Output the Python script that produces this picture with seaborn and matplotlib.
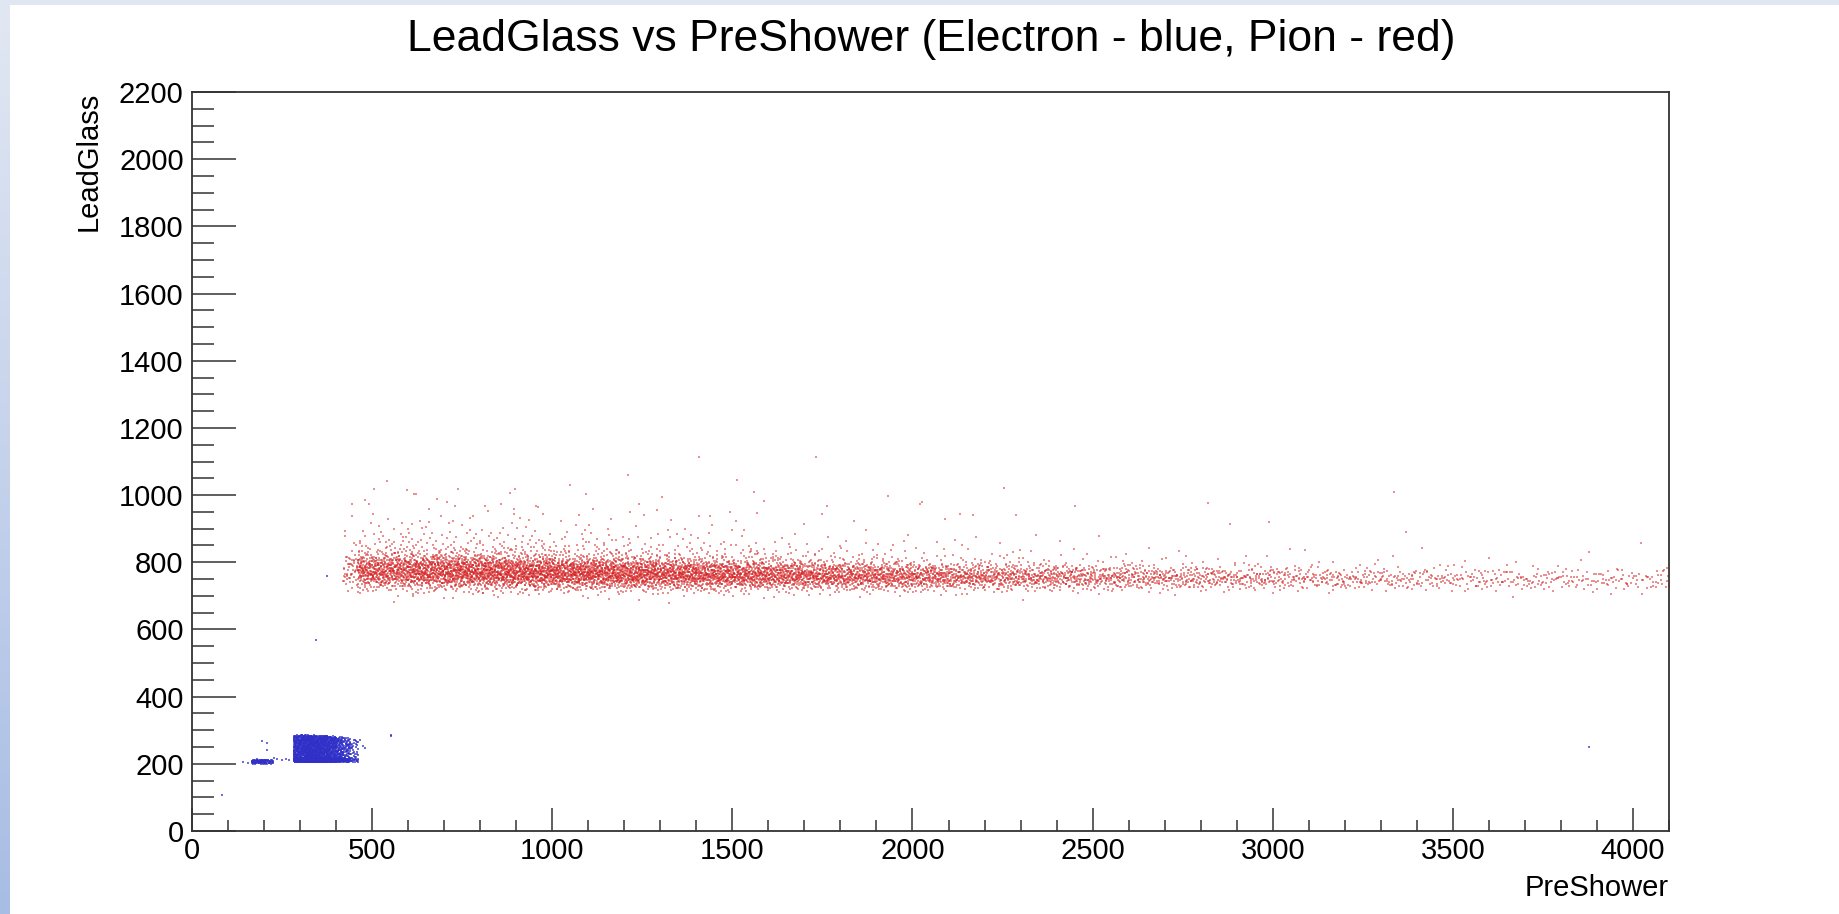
import numpy as np
import pandas as pd
import matplotlib
matplotlib.use("Agg")
import matplotlib.pyplot as plt
import seaborn as sns

# ---------------- data ----------------
# Pion (red) band: PreShower bins, counts, band centre / width (LeadGlass)
pion_bin_edges = [420, 460, 500, 600, 700, 800, 900, 1000, 1100, 1200, 1300, 1400,
                  1500, 1600, 1700, 1800, 1900, 2000, 2100, 2200, 2300, 2400,
                  2500, 2600, 2700, 2800, 2900, 3000, 3100, 3200, 3300, 3400,
                  3500, 3600, 3700, 3800, 3900, 4000, 4100]
pion_bin_counts = [55, 170, 430, 480, 500, 500, 500, 480, 470, 450, 420, 400,
                   370, 340, 310, 290, 270, 240, 210, 190, 170, 150,
                   135, 120, 105, 95, 85, 75, 68, 60, 55, 50,
                   45, 42, 40, 38, 36, 34]
pion_center = [770, 770, 770, 769, 768, 767, 766, 765, 764, 763, 762, 761,
               760, 759, 758, 757, 756, 756, 755, 755, 754, 754,
               753, 753, 752, 752, 751, 751, 750, 750, 749, 749,
               748, 748, 747, 747, 746, 746]
pion_sigma = [25, 25, 25, 25, 24, 24, 24, 23, 23, 23, 22, 22,
              21, 21, 20, 20, 20, 19, 19, 19, 18, 18,
              18, 17, 17, 17, 17, 16, 16, 16, 16, 16,
              16, 16, 16, 16, 16, 16]
pion_tail_frac = [0.18, 0.18, 0.18, 0.17, 0.17, 0.16, 0.16, 0.15, 0.15, 0.14, 0.14, 0.13,
                  0.13, 0.12, 0.12, 0.11, 0.11, 0.10, 0.10, 0.10, 0.09, 0.09,
                  0.09, 0.08, 0.08, 0.08, 0.08, 0.08, 0.08, 0.08, 0.08, 0.08,
                  0.08, 0.08, 0.08, 0.08, 0.08, 0.08]
pion_tail_scale = [45, 45, 45, 45, 42, 42, 40, 40, 38, 38, 36, 36,
                   34, 34, 32, 32, 30, 30, 30, 28, 28, 28,
                   26, 26, 26, 25, 25, 25, 25, 25, 25, 25,
                   25, 25, 25, 25, 25, 25]
pion_outliers_x = [1407, 1210, 1514, 505, 598, 739, 622, 1093, 1561, 1588, 681,
                   444, 444, 812, 858, 956, 1241, 1291, 1407, 1437, 893, 893,
                   1113, 1567, 973, 1731, 2253, 1931, 1762, 2022, 2450, 2819,
                   2089, 2133, 2167, 2287, 3337, 2989]
pion_outliers_y = [1113, 1060, 1046, 1019, 1016, 1019, 1002, 1002, 1009, 983, 988,
                   973, 937, 969, 973, 969, 973, 955, 937, 937, 959, 944,
                   959, 948, 944, 1113, 1022, 998, 969, 973, 969, 977,
                   930, 944, 941, 941, 1009, 920]

# Electron (blue) cluster: PreShower bins of the main block
electron_bin_edges = [282, 300, 320, 340, 360, 380, 400, 420, 440, 462]
electron_bin_counts = [230, 300, 310, 290, 260, 210, 150, 100, 45]
electron_y_low = [205, 205, 205, 205, 205, 205, 205, 205, 205]
electron_y_high = [285, 286, 285, 284, 284, 282, 280, 278, 272]
# small electron clump at low PreShower
electron_clump_edges = [165, 185, 205, 226]
electron_clump_counts = [30, 40, 25]
electron_clump_y_low = [200, 200, 200]
electron_clump_y_high = [213, 213, 212]
electron_outliers_x = [141, 156, 194, 207, 207, 228, 237, 250, 262, 270, 83,
                       476, 481, 467, 552, 552, 375, 344, 3878]
electron_outliers_y = [204, 203, 269, 262, 240, 217, 215, 212, 214, 211, 107,
                       253, 248, 272, 287, 283, 759, 568, 250]


# ---------------- deterministic fill of the read-off bins ----------------
def vdc(n, base):
    out = np.zeros(len(n))
    for i, k in enumerate(n):
        f, r, k = 1.0, 0.0, int(k)
        while k > 0:
            f /= base
            r += f * (k % base)
            k //= base
        out[i] = r
    return out


def fill_band(edges, counts, centers, sigmas, tfrac, tscale, start=1):
    xs, ys = [], []
    idx = start
    for i, n in enumerate(counts):
        k = np.arange(idx, idx + n)
        idx += n
        u1, u2, u3, u4 = vdc(k, 2), vdc(k, 3), vdc(k, 5), vdc(k, 7)
        x = edges[i] + (edges[i + 1] - edges[i]) * u4
        z = np.sqrt(-2 * np.log(u1)) * np.cos(2 * np.pi * u2)
        y = centers[i] + sigmas[i] * z
        tail = u3 < tfrac[i]
        y[tail] = centers[i] + 20 + tscale[i] * (-np.log(1 - u2[tail] * 0.999))
        xs.append(x)
        ys.append(y)
    return np.concatenate(xs), np.concatenate(ys)


def fill_box(edges, counts, ylo, yhi, start=1):
    xs, ys = [], []
    idx = start
    for i, n in enumerate(counts):
        k = np.arange(idx, idx + n)
        idx += n
        u1, u2, u3 = vdc(k, 2), vdc(k, 3), vdc(k, 5)
        x = edges[i] + (edges[i + 1] - edges[i]) * u1
        y = ylo[i] + (yhi[i] - ylo[i]) * u2
        bottom = u3 < 0.25
        y[bottom] = ylo[i] + 12 * u2[bottom]
        xs.append(x)
        ys.append(y)
    return np.concatenate(xs), np.concatenate(ys)


px, py = fill_band(pion_bin_edges, pion_bin_counts, pion_center, pion_sigma,
                   pion_tail_frac, pion_tail_scale)
px = np.concatenate([px, pion_outliers_x])
py = np.concatenate([py, pion_outliers_y])

ex, ey = fill_box(electron_bin_edges, electron_bin_counts,
                  electron_y_low, electron_y_high)
cx, cy = fill_box(electron_clump_edges, electron_clump_counts,
                  electron_clump_y_low, electron_clump_y_high, start=5000)
ex = np.concatenate([ex, cx, electron_outliers_x])
ey = np.concatenate([ey, cy, electron_outliers_y])

pion = pd.DataFrame({"PreShower": px, "LeadGlass": py})
electron = pd.DataFrame({"PreShower": ex, "LeadGlass": ey})

# ---------------- figure ----------------
sns.set_theme(style="white")
plt.rcParams["font.family"] = ["Liberation Sans", "DejaVu Sans"]

W, H = 1840, 914
fig = plt.figure(figsize=(W / 100, H / 100), dpi=100)
fig.patch.set_facecolor("white")

# slide background strips (top band + left gradient)
bg = fig.add_axes([0, 0, 1, 1], zorder=-10)
bg.set_xlim(0, W)
bg.set_ylim(H, 0)
bg.axis("off")
grad = np.linspace(0, 1, 256).reshape(-1, 1)
cmap = matplotlib.colors.LinearSegmentedColormap.from_list(
    "bgstrip", ["#e2e8f3", "#a8bde4"])
bg.imshow(grad, extent=[0, 10, H, 0], cmap=cmap, aspect="auto")
bg.add_patch(plt.Rectangle((0, 0), W, 5, color="#e0e7f3", lw=0))

ax = fig.add_axes([192 / W, 1 - 831 / H, (1669 - 192) / W, (831 - 92) / H])
ax.set_facecolor("white")

sns.scatterplot(data=pion, x="PreShower", y="LeadGlass", ax=ax,
                color="#d42424", marker="s", s=4, linewidth=0, alpha=0.5,
                legend=False)
sns.scatterplot(data=electron, x="PreShower", y="LeadGlass", ax=ax,
                color="#3030c8", marker="s", s=4, linewidth=0, alpha=0.7,
                legend=False)

ax.set_xlim(0, 4100)
ax.set_ylim(0, 2200)
ax.set_xticks(np.arange(0, 4001, 500))
ax.set_xticks(np.arange(0, 4101, 100), minor=True)
ax.set_yticks(np.arange(0, 2201, 200))
ax.set_yticks(np.arange(0, 2201, 50), minor=True)

for s in ax.spines.values():
    s.set_color("#333333")
    s.set_linewidth(1.3)
    s.set_visible(True)

ax.tick_params(axis="both", which="both", direction="in", colors="#333333",
               width=1.1, labelsize=21, labelcolor="black",
               bottom=True, left=True, top=False, right=False)
ax.tick_params(axis="y", which="major", length=32, pad=6)
ax.tick_params(axis="y", which="minor", length=16)
ax.tick_params(axis="x", which="major", length=16.5, pad=4)
ax.tick_params(axis="x", which="minor", length=8)

ax.set_xlabel("PreShower", fontsize=21, color="black")
ax.xaxis.set_label_coords(1.0, (831 - 888) / 739)
ax.xaxis.label.set_ha("right")
ax.xaxis.label.set_va("center")

ax.set_ylabel("LeadGlass", fontsize=21, color="black")
ax.yaxis.set_label_coords((89 - 192) / 1477, 1.0)
ax.yaxis.label.set_ha("right")
ax.yaxis.label.set_va("center")

fig.text(931 / W, 1 - 40 / H,
         "LeadGlass vs PreShower (Electron - blue, Pion - red)",
         ha="center", va="center", fontsize=32, color="black")

fig.savefig("out.png", dpi=100)
